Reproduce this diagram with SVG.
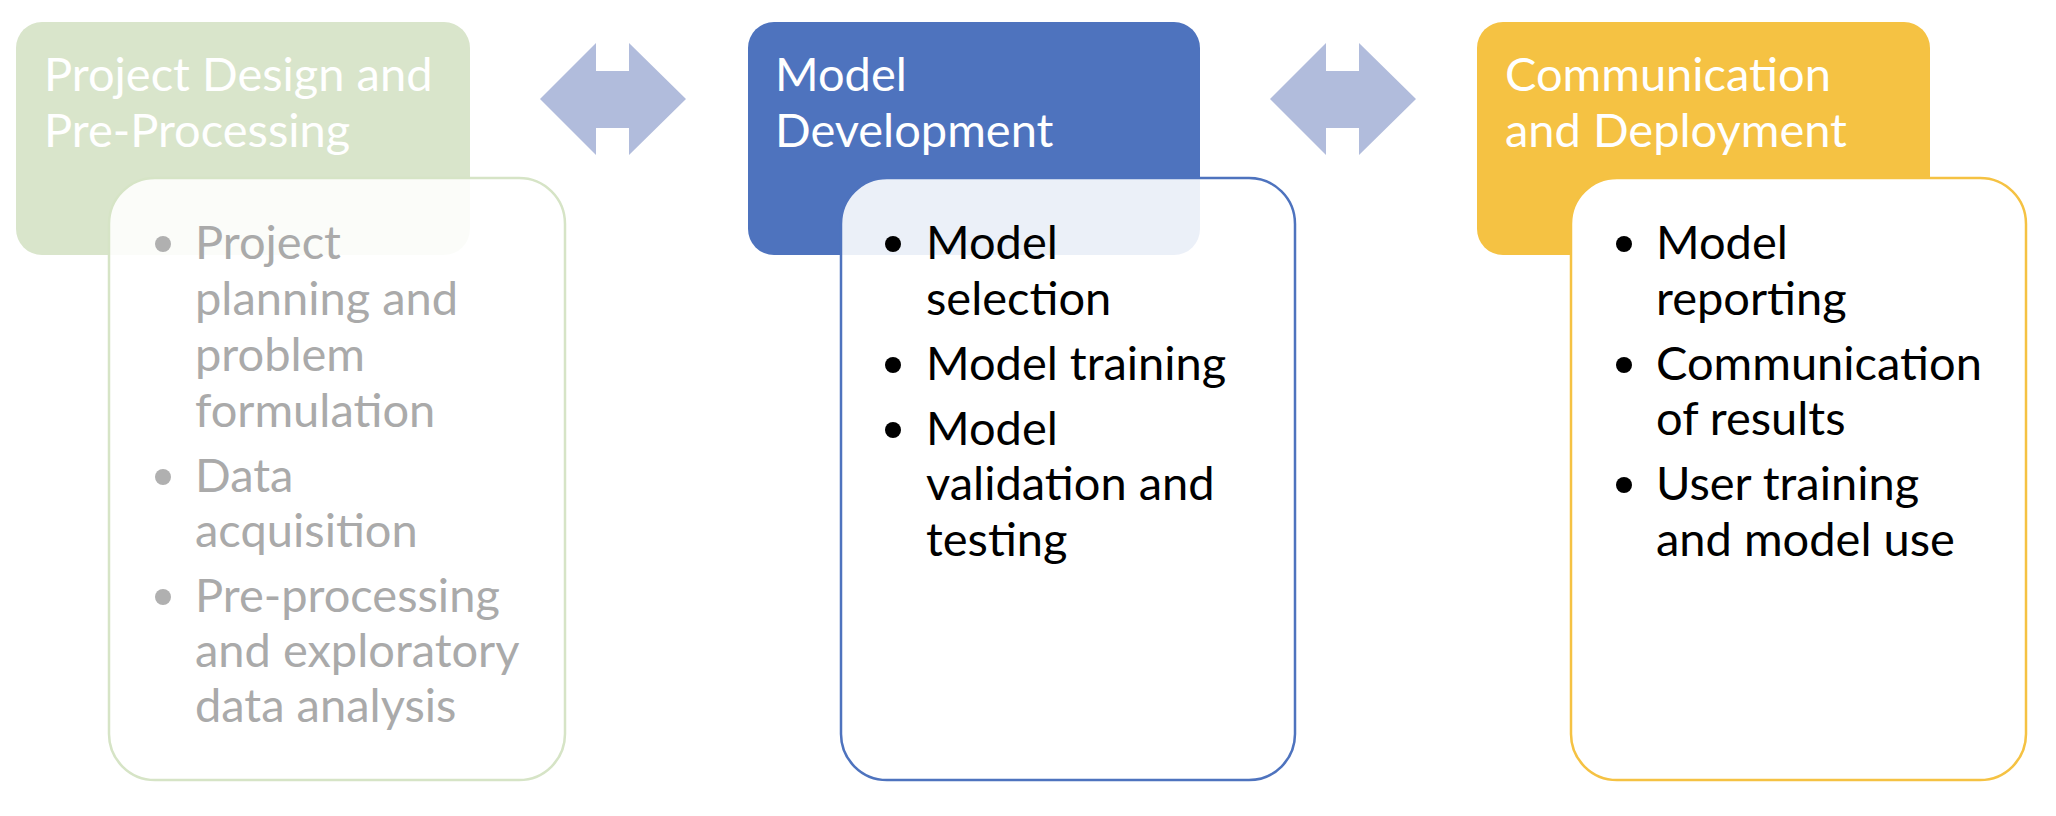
<svg xmlns="http://www.w3.org/2000/svg" width="2056" height="816" viewBox="0 0 2056 816">
<style>
  text { font-family: Lato, "Liberation Sans", sans-serif; font-size: 47px; }
  .hdr { fill: #FFFFFF; }
  .gtxt { fill: #AAAAAA; }
  .btxt { fill: #000000; }
  .body { stroke-width: 2.5; }
</style>
<rect width="2056" height="816" fill="#FFFFFF"/>
<g id="connectors" fill="#B1BCDC">
  <polygon points="540,99 596,43 596,71 629,71 629,43 686,99 629,155 629,128 596,128 596,155"/>
  <polygon points="1270,99 1326,43 1326,71 1359,71 1359,43 1416,99 1359,155 1359,128 1326,128 1326,155"/>
</g>
<g id="node-design-header">
  <rect x="16" y="22" width="454" height="233" rx="26" fill="#D9E5CB"/>
  <text class="hdr" x="44" y="91">Project Design and</text>
  <text class="hdr" x="44" y="147">Pre-Processing</text>
</g>
<g id="node-design-body">
  <rect class="body" x="109" y="178" width="456" height="602" rx="46" fill="#FFFFFF" fill-opacity="0.89" stroke="#D6E4C6"/>
  <g fill="#B0B0B0">
    <circle cx="163" cy="244" r="8"/>
    <circle cx="163" cy="477" r="8"/>
    <circle cx="163" cy="597" r="8"/>
  </g>
  <text class="gtxt" x="195" y="259">Project</text>
  <text class="gtxt" x="195" y="315">planning and</text>
  <text class="gtxt" x="195" y="371">problem</text>
  <text class="gtxt" x="195" y="427">formulation</text>
  <text class="gtxt" x="195" y="492">Data</text>
  <text class="gtxt" x="195" y="547">acquisition</text>
  <text class="gtxt" x="195" y="612">Pre-processing</text>
  <text class="gtxt" x="195" y="667">and exploratory</text>
  <text class="gtxt" x="195" y="722">data analysis</text>
</g>
<g id="node-model-header">
  <rect x="748" y="22" width="452" height="233" rx="26" fill="#4E73BE"/>
  <text class="hdr" x="775" y="91">Model</text>
  <text class="hdr" x="775" y="147">Development</text>
</g>
<g id="node-model-body">
  <rect class="body" x="841" y="178" width="454" height="602" rx="46" fill="#FFFFFF" fill-opacity="0.89" stroke="#4E73BE"/>
  <g fill="#000000">
    <circle cx="893" cy="244" r="8"/>
    <circle cx="893" cy="365" r="8"/>
    <circle cx="893" cy="430" r="8"/>
  </g>
  <text class="btxt" x="926" y="259">Model</text>
  <text class="btxt" x="926" y="315">selection</text>
  <text class="btxt" x="926" y="380">Model training</text>
  <text class="btxt" x="926" y="445">Model</text>
  <text class="btxt" x="926" y="500">validation and</text>
  <text class="btxt" x="926" y="556">testing</text>
</g>
<g id="node-deploy-header">
  <rect x="1477" y="22" width="453" height="233" rx="26" fill="#F5C243"/>
  <text class="hdr" x="1505" y="91">Communication</text>
  <text class="hdr" x="1505" y="147">and Deployment</text>
</g>
<g id="node-deploy-body">
  <rect class="body" x="1571" y="178" width="455" height="602" rx="46" fill="#FFFFFF" stroke="#F5C243"/>
  <g fill="#000000">
    <circle cx="1624" cy="244" r="8"/>
    <circle cx="1624" cy="365" r="8"/>
    <circle cx="1624" cy="485" r="8"/>
  </g>
  <text class="btxt" x="1656" y="259">Model</text>
  <text class="btxt" x="1656" y="315">reporting</text>
  <text class="btxt" x="1656" y="380">Communication</text>
  <text class="btxt" x="1656" y="435">of results</text>
  <text class="btxt" x="1656" y="500">User training</text>
  <text class="btxt" x="1656" y="556">and model use</text>
</g>
</svg>
